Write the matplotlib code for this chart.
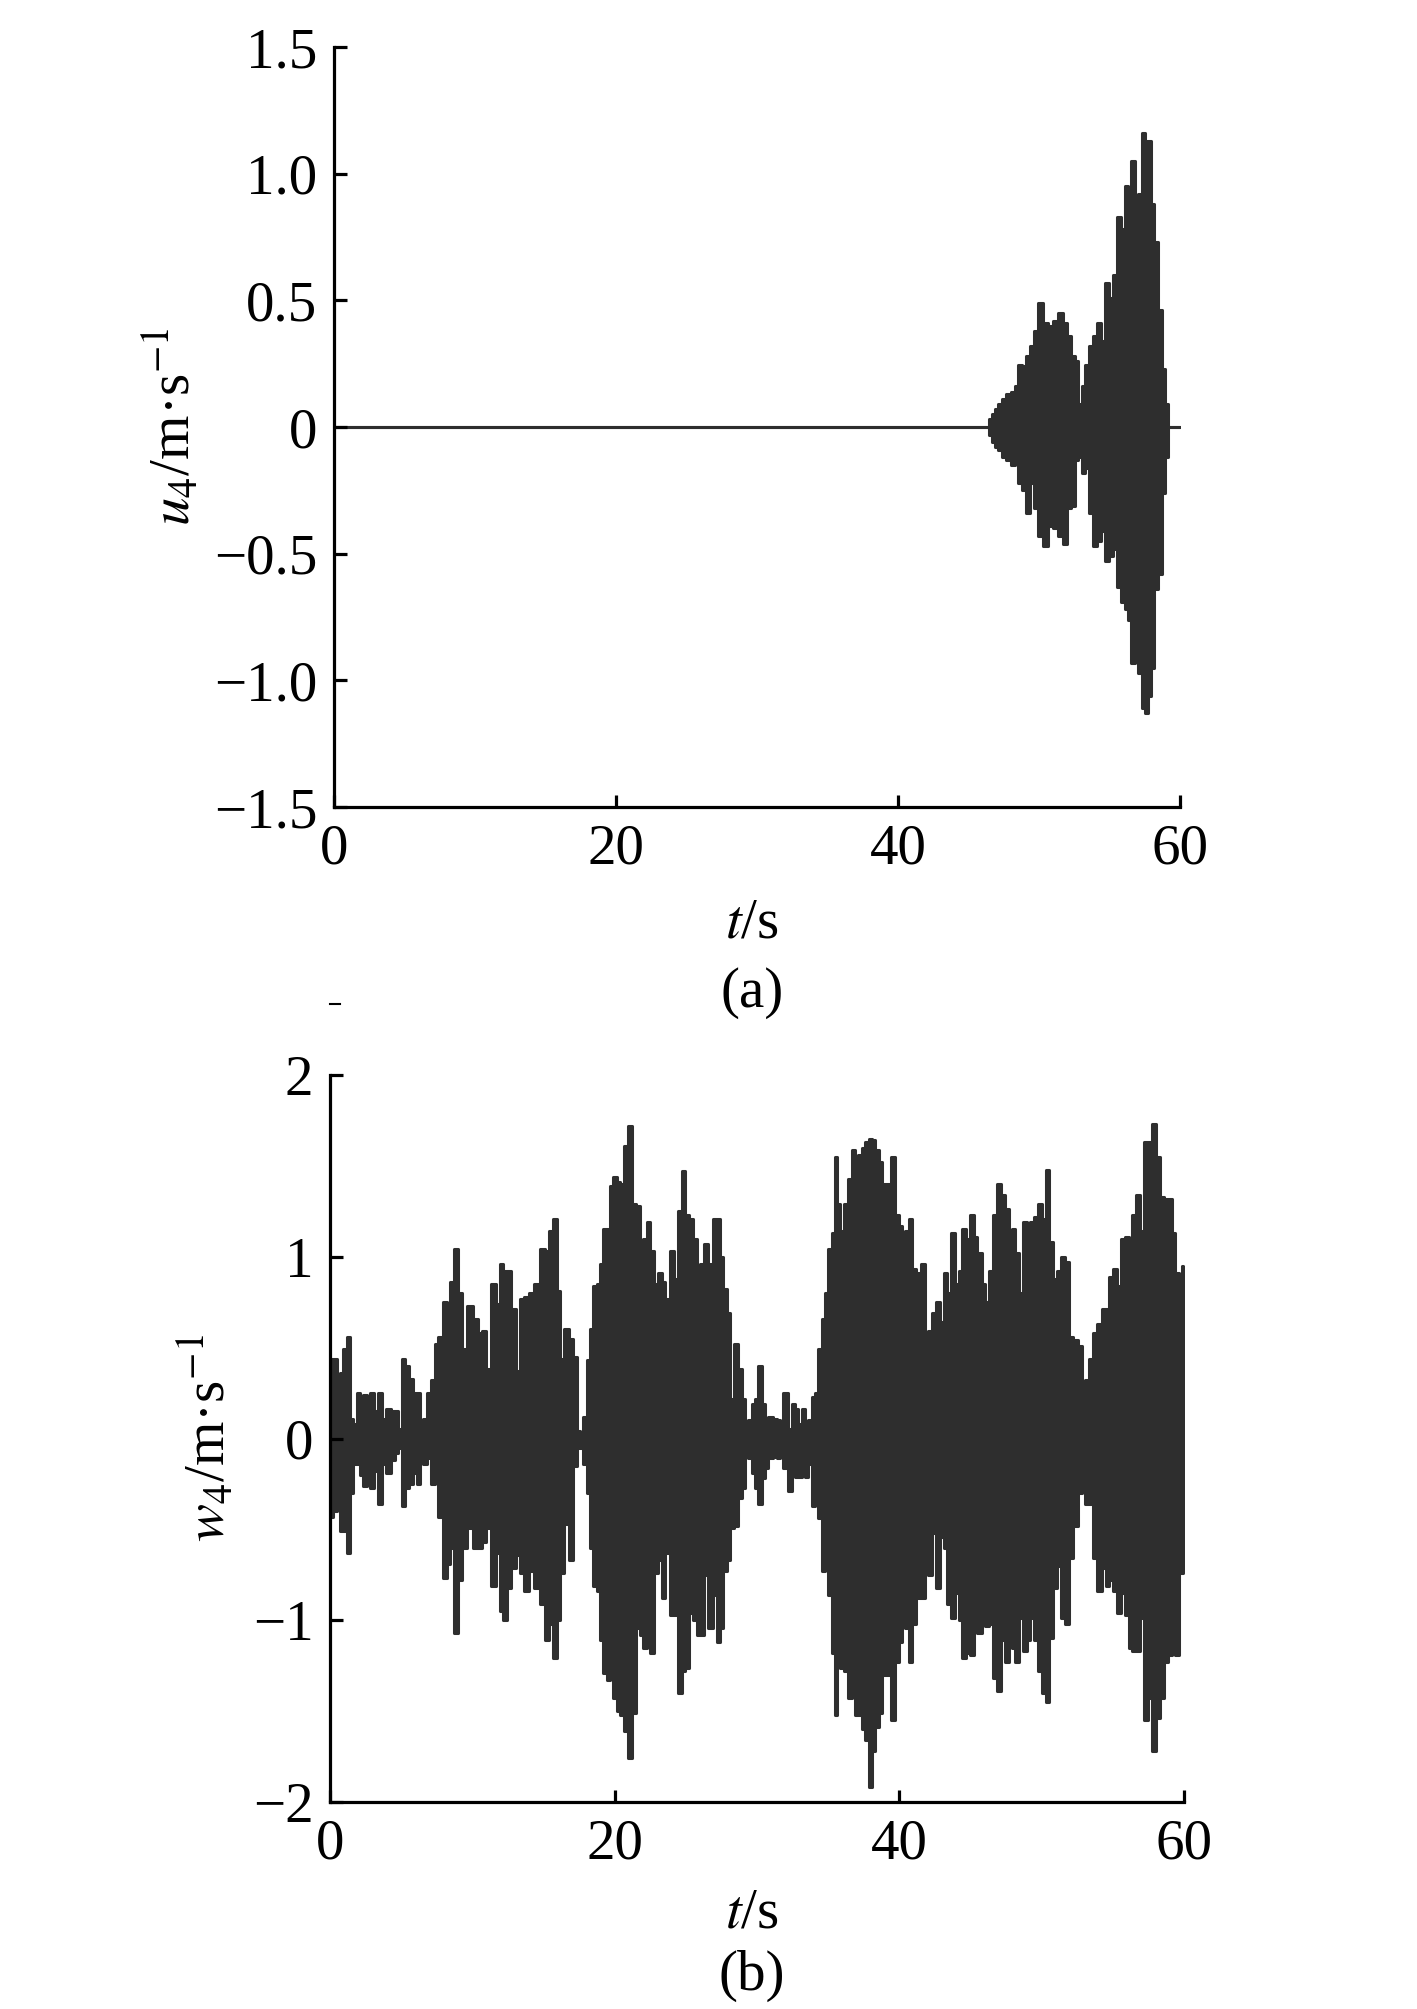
import matplotlib
matplotlib.use("Agg")
import matplotlib.pyplot as plt
from matplotlib.lines import Line2D
import numpy as np

plt.rcParams['font.family'] = ['Liberation Serif', 'DejaVu Serif']
plt.rcParams['mathtext.fontset'] = 'stix'

# ---------------- panel (a): u4 envelope (upper / lower peaks) ----------------
t_a = [0.0, 46.4, 46.53, 46.76, 47.0, 47.24, 47.5, 47.83, 48.18, 48.4, 48.66, 48.95,
       49.25, 49.48, 49.84, 50.07, 50.43, 50.78, 51.26, 51.49, 51.85, 52.08, 52.44,
       52.67, 52.91, 53.15, 53.38, 53.74, 53.97, 54.21, 54.57, 54.8, 55.16, 55.39,
       55.7, 55.98, 56.22, 56.46, 56.65, 56.93, 57.17, 57.4, 57.64, 57.83, 58.0,
       58.35, 58.58, 58.82, 59.1, 59.25, 60.0]
up_a = [0.0, 0.0, 0.03, 0.05, 0.07, 0.09, 0.11, 0.13, 0.14, 0.16, 0.245, 0.24,
        0.28, 0.32, 0.38, 0.49, 0.41, 0.40, 0.42, 0.45, 0.41, 0.36, 0.28,
        0.26, 0.09, 0.16, 0.245, 0.32, 0.36, 0.41, 0.34, 0.57, 0.51, 0.60,
        0.83, 0.78, 0.95, 0.93, 1.05, 0.90, 0.92, 1.16, 1.13, 1.13, 0.88,
        0.73, 0.46, 0.23, 0.09, 0.0, 0.0]
lo_a = [0.0, 0.0, -0.03, -0.06, -0.08, -0.09, -0.12, -0.13, -0.15, -0.14, -0.22, -0.25,
        -0.34, -0.22, -0.32, -0.43, -0.47, -0.39, -0.40, -0.43, -0.46, -0.32, -0.31,
        -0.13, -0.12, -0.18, -0.16, -0.34, -0.47, -0.45, -0.41, -0.53, -0.51, -0.48,
        -0.63, -0.69, -0.72, -0.76, -0.93, -0.87, -0.97, -1.11, -1.13, -1.06, -0.95,
        -0.64, -0.58, -0.26, -0.12, 0.0, 0.0]

# ---------------- panel (b): w4 envelope (upper / lower peaks) ----------------
t_b = [0.0, 0.12, 0.35, 0.59, 0.82, 1.05, 1.29, 1.52, 1.76, 1.99, 2.22, 2.46, 2.7, 2.93,
       3.2, 3.51, 3.75, 4.1, 4.45, 4.7, 4.92, 5.15, 5.39, 5.74, 5.97, 6.21, 6.44, 6.67,
       6.91, 7.26, 7.49, 7.73, 8.08, 8.31, 8.55, 8.85, 9.13, 9.48, 9.84, 10.19, 10.54,
       10.77, 11.12, 11.48, 11.83, 12.06, 12.3, 12.53, 12.88, 13.23, 13.47, 13.82, 14.17,
       14.52, 14.99, 15.22, 15.57, 15.81, 16.04, 16.28, 16.63, 16.98, 17.21, 17.45, 17.69,
       17.92, 18.16, 18.39, 18.62, 18.86, 19.09, 19.33, 19.56, 19.8, 20.03, 20.26, 20.5,
       20.85, 21.08, 21.32, 21.67, 21.9, 22.14, 22.37, 22.6, 22.91, 23.19, 23.42, 23.7,
       24.01, 24.31, 24.6, 24.83, 25.06, 25.42, 25.65, 25.88, 26.12, 26.42, 26.7, 27.05,
       27.29, 27.52, 27.76, 27.99, 28.23, 28.58, 28.81, 29.05, 29.28, 29.51, 29.75, 29.98,
       30.22, 30.45, 30.69, 30.92, 31.27, 31.5, 31.74, 31.97, 32.32, 32.56, 32.79, 33.03,
       33.26, 33.5, 33.73, 33.96, 34.2, 34.43, 34.67, 34.9, 35.13, 35.37, 35.53, 35.72,
       35.95, 36.3, 36.54, 36.77, 37.0, 37.25, 37.5, 37.72, 37.95, 38.19, 38.42, 38.66,
       38.94, 39.24, 39.52, 39.83, 40.06, 40.29, 40.53, 40.81, 41.04, 41.35, 41.65, 41.89,
       42.17, 42.45, 42.75, 42.99, 43.22, 43.46, 43.76, 44.04, 44.28, 44.56, 44.86, 45.1,
       45.33, 45.63, 45.92, 46.15, 46.43, 46.69, 46.97, 47.27, 47.55, 47.79, 48.02, 48.26,
       48.54, 48.8, 49.08, 49.31, 49.62, 49.9, 50.18, 50.41, 50.65, 50.95, 51.18, 51.49,
       51.77, 52.05, 52.36, 52.71, 52.94, 53.17, 53.46, 53.76, 54.06, 54.35, 54.63, 54.86,
       55.17, 55.4, 55.7, 55.99, 56.22, 56.45, 56.8, 57.04, 57.34, 57.62, 57.86, 58.14,
       58.44, 58.75, 59.03, 59.26, 59.5, 59.73, 59.93]
up_b = [0.05, 0.44, 0.44, 0.27, 0.36, 0.49, 0.56, 0.11, 0.08, 0.25, 0.23, 0.24, 0.23, 0.25,
        0.15, 0.25, 0.11, 0.16, 0.15, 0.15, 0.05, 0.44, 0.40, 0.33, 0.25, 0.25, 0.04, 0.11,
        0.25, 0.32, 0.52, 0.56, 0.75, 0.69, 0.86, 1.04, 0.80, 0.49, 0.73, 0.66, 0.58,
        0.59, 0.38, 0.85, 0.74, 0.96, 0.92, 0.92, 0.71, 0.37, 0.77, 0.78, 0.80,
        0.85, 1.04, 1.03, 1.14, 1.21, 0.81, 0.44, 0.60, 0.55, 0.45, 0.04, 0.03,
        0.12, 0.43, 0.60, 0.84, 0.85, 0.96, 1.15, 1.15, 1.39, 1.44, 1.41, 1.40,
        1.61, 1.72, 1.29, 1.28, 1.02, 1.10, 1.19, 1.03, 0.85, 0.91, 0.86, 0.77,
        1.03, 0.88, 1.25, 1.47, 1.23, 1.21, 1.10, 0.93, 0.96, 1.07, 0.96, 1.21,
        1.21, 1.00, 0.82, 0.69, 0.22, 0.52, 0.38, 0.22, 0.03, 0.10, 0.19, 0.22,
        0.40, 0.19, 0.05, 0.12, 0.11, 0.10, 0.08, 0.25, 0.05, 0.19, 0.16, 0.08,
        0.16, 0.07, 0.10, 0.23, 0.25, 0.49, 0.66, 0.80, 1.04, 1.13, 1.55, 1.29,
        1.14, 1.29, 1.43, 1.59, 1.48, 1.56, 1.60, 1.63, 1.65, 1.64, 1.59, 1.52,
        1.40, 1.40, 1.55, 1.23, 1.17, 0.85, 1.14, 1.21, 0.93, 0.91, 0.96, 0.36,
        0.59, 0.69, 0.75, 0.64, 0.91, 0.80, 1.13, 0.85, 0.92, 1.15, 1.10, 1.23,
        1.11, 1.02, 0.85, 0.75, 0.92, 1.23, 1.40, 1.34, 1.26, 1.02, 1.15, 1.02,
        0.80, 1.19, 1.00, 1.19, 1.22, 1.29, 1.21, 1.48, 1.08, 0.88, 0.92, 1.00,
        0.97, 0.56, 0.54, 0.51, 0.05, 0.32, 0.44, 0.58, 0.63, 0.71, 0.71, 0.89,
        0.93, 0.84, 1.10, 1.11, 0.85, 1.23, 1.34, 1.14, 1.63, 1.63, 1.73, 1.55,
        1.33, 1.32, 1.32, 1.13, 0.91, 0.82, 0.95]
lo_b = [-0.30, -0.43, -0.40, -0.38, -0.51, -0.51, -0.63, -0.30, -0.14, -0.14, -0.20, -0.26, -0.14, -0.27,
        -0.18, -0.36, -0.14, -0.19, -0.12, -0.08, -0.05, -0.37, -0.27, -0.25, -0.19, -0.25, -0.05, -0.14,
        -0.11, -0.25, -0.11, -0.43, -0.77, -0.69, -0.60, -1.07, -0.78, -0.60, -0.49, -0.60, -0.60,
        -0.57, -0.49, -0.81, -0.63, -0.95, -1.00, -0.82, -0.71, -0.64, -0.74, -0.84, -0.73,
        -0.82, -0.91, -1.11, -1.02, -1.21, -1.00, -0.74, -0.47, -0.67, -0.15, -0.05, -0.05,
        -0.14, -0.30, -0.60, -0.81, -0.84, -1.11, -1.29, -1.33, -1.31, -1.43, -1.50, -1.52,
        -1.61, -1.76, -1.51, -1.04, -1.08, -1.15, -1.11, -1.18, -0.74, -0.67, -0.88, -0.63,
        -0.97, -0.97, -1.40, -1.28, -1.26, -0.96, -1.00, -1.08, -1.08, -0.75, -1.04, -0.86,
        -1.12, -1.04, -0.73, -0.67, -0.49, -0.48, -0.33, -0.27, -0.03, -0.11, -0.19, -0.27,
        -0.36, -0.22, -0.16, -0.11, -0.10, -0.11, -0.05, -0.16, -0.29, -0.14, -0.21, -0.21,
        -0.14, -0.21, -0.14, -0.37, -0.27, -0.44, -0.73, -0.66, -0.86, -1.18, -1.52, -1.15,
        -1.26, -1.28, -1.43, -1.26, -1.52, -1.52, -1.60, -1.66, -1.92, -1.72, -1.59, -1.51,
        -1.30, -1.30, -1.55, -1.23, -1.12, -0.93, -1.04, -1.23, -1.02, -0.88, -0.88, -0.60,
        -0.75, -0.52, -0.82, -0.54, -0.60, -0.91, -0.99, -0.85, -1.00, -1.21, -1.18, -1.19,
        -1.02, -1.07, -0.71, -1.03, -1.02, -1.32, -1.39, -1.11, -1.23, -1.02, -1.15, -1.23,
        -0.99, -1.17, -1.11, -0.99, -1.11, -1.28, -1.40, -1.45, -1.10, -0.82, -0.70, -0.99,
        -1.02, -0.66, -0.48, -0.30, -0.22, -0.36, -0.36, -0.66, -0.84, -0.71, -0.81, -0.78,
        -0.84, -0.96, -0.85, -0.97, -1.15, -1.17, -1.17, -0.99, -1.55, -1.43, -1.72, -1.54,
        -1.43, -1.23, -1.19, -1.03, -1.19, -0.74, -0.74]

x_ticks = [0, 20, 40, 60]
ya_ticks = [-1.5, -1.0, -0.5, 0.0, 0.5, 1.0, 1.5]
ya_labels = ['\u22121.5', '\u22121.0', '\u22120.5', '0', '0.5', '1.0', '1.5']
yb_ticks = [-2, -1, 0, 1, 2]
yb_labels = ['\u22122', '\u22121', '0', '1', '2']

W, H = 1417, 2009
fig = plt.figure(figsize=(W / 100, H / 100), dpi=100)
col = '#2e2e2e'
fs = 41

def px_axes(l, r, t, b):
    return [l / W, 1 - b / H, (r - l) / W, (b - t) / H]

def style(ax, yticks, ylabels, ylim):
    ax.set_xlim(0, 60)
    ax.set_ylim(*ylim)
    ax.set_xticks(x_ticks)
    ax.set_xticklabels([str(v) for v in x_ticks])
    ax.set_yticks(yticks)
    ax.set_yticklabels(ylabels)
    for s in ['top', 'right']:
        ax.spines[s].set_visible(False)
    for s in ['left', 'bottom']:
        ax.spines[s].set_linewidth(2.3)
        ax.spines[s].set_color('black')
    ax.tick_params(direction='in', length=9, width=2.3, labelsize=fs, color='black')
    ax.tick_params(axis='x', pad=12)
    ax.tick_params(axis='y', pad=12)

ax_a = fig.add_axes(px_axes(334, 1180, 47, 807))
ax_a.fill_between(t_a, lo_a, up_a, step='mid', color=col, edgecolor=col, linewidth=2.2)
style(ax_a, ya_ticks, ya_labels, (-1.5, 1.5))
ax_a.set_ylabel('$u_4$/m\u00b7s$^{-1}$', fontsize=fs)
ax_a.yaxis.set_label_coords(-0.155, 0.5)

ax_b = fig.add_axes(px_axes(330, 1184, 1075, 1802))
ax_b.fill_between(t_b, lo_b, up_b, step='mid', color=col, edgecolor=col, linewidth=2.2)
style(ax_b, yb_ticks, yb_labels, (-2, 2))
ax_b.set_ylabel('$w_4$/m\u00b7s$^{-1}$', fontsize=fs)
ax_b.yaxis.set_label_coords(-0.108, 0.5)

fig.text(752 / W, 1 - 923 / H, '$t$/s', fontsize=fs, ha='center', va='center')
fig.text(752 / W, 1 - 993 / H, '(a)', fontsize=fs, ha='center', va='center')
fig.text(752 / W, 1 - 1913 / H, '$t$/s', fontsize=fs, ha='center', va='center')
fig.text(752 / W, 1 - 1976 / H, '(b)', fontsize=fs, ha='center', va='center')

# stray small dash above panel (b)
fig.add_artist(Line2D([330 / W, 340 / W], [1 - 1004 / H, 1 - 1004 / H],
                      transform=fig.transFigure, color='black', linewidth=1.5))

fig.savefig('out.png', dpi=100)
